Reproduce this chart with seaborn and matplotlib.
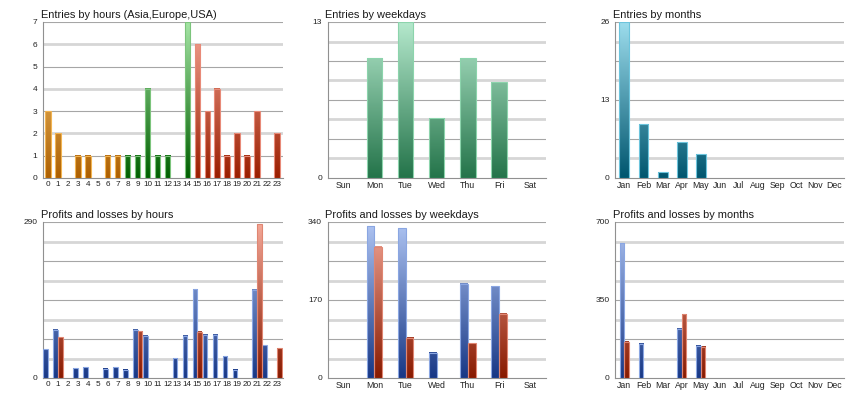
import numpy as np
import pandas as pd
import matplotlib
matplotlib.use("Agg")
import matplotlib.pyplot as plt
from matplotlib.colors import LinearSegmentedColormap
import seaborn as sns

sns.set_style("white")
plt.rcParams['font.family'] = ['Liberation Sans', 'DejaVu Sans']

# ── data ────────────────────────────────────────────────────────────────
hours = [str(h) for h in range(24)]
hour_region = ['Asia'] * 8 + ['Europe'] * 7 + ['USA'] * 9
entries_hours = [3, 2, 0, 1, 1, 0, 1, 1, 1, 1, 4, 1, 1, 0, 7, 6, 3, 4, 1, 2, 1, 3, 0, 2]

weekdays = ['Sun', 'Mon', 'Tue', 'Wed', 'Thu', 'Fri', 'Sat']
entries_weekdays = [0, 10, 13, 5, 10, 8, 0]

months = ['Jan', 'Feb', 'Mar', 'Apr', 'May', 'Jun', 'Jul', 'Aug', 'Sep', 'Oct', 'Nov', 'Dec']
entries_months = [26, 9, 1, 6, 4, 0, 0, 0, 0, 0, 0, 0]

profit_hours = [53, 90, 0, 18, 20, 0, 17, 20, 15, 90, 79, 0, 0, 37, 79, 165, 80, 80, 40, 15, 0, 164, 61, 0]
loss_hours = [0, 76, 0, 0, 0, 0, 0, 0, 0, 87, 0, 0, 0, 0, 0, 86, 0, 0, 0, 0, 0, 286, 0, 55]

profit_weekdays = [0, 331, 326, 55, 205, 200, 0]
loss_weekdays = [0, 286, 88, 0, 76, 140, 0]

profit_months = [604, 154, 0, 220, 145, 0, 0, 0, 0, 0, 0, 0]
loss_months = [163, 0, 0, 287, 141, 0, 0, 0, 0, 0, 0, 0]

# gradient colours (bottom of axis -> top of axis) and bar outline colour
grads = {
    'Asia':    ('#ad5f00', '#ffd98a', '#f2b451'),
    'Europe':  ('#005f00', '#a4e4a4', '#7cc47c'),
    'USA':     ('#9a1e00', '#f6a696', '#e88a78'),
    'week':    ('#24744a', '#b4e8cc', '#8cd4ac'),
    'month':   ('#00566f', '#9cdcec', '#6cc4dc'),
    'Profit':  ('#183886', '#aec4f2', '#8aa6e2'),
    'Loss':    ('#881a00', '#f4a898', '#e08672'),
}


def paint(ax, container, key, ymax):
    lo, hi, edge = grads[key]
    cmap = LinearSegmentedColormap.from_list(key, [lo, hi])
    for p in container.patches:
        h = p.get_height()
        if h <= 0:
            p.set_visible(False)
            continue
        x, w = p.get_x(), p.get_width()
        g = np.linspace(0, h / ymax, 64).reshape(-1, 1)
        ax.imshow(g, extent=[x, x + w, 0, h], origin='lower', aspect='auto',
                  cmap=cmap, vmin=0, vmax=1, zorder=3, interpolation='bilinear')
        p.set_facecolor('none')
        p.set_edgecolor(edge)
        p.set_linewidth(0.8)
        p.set_zorder(4)


def style(ax, title, ncat, ymax, step, labels, xlim, xfs=6.3):
    ax.set_xlim(*xlim)
    ax.set_ylim(0, ymax)
    n = int(round(ymax / step))
    for i in range(1, n + 1):
        y = i * step
        if (n - i) % 2 == 0:
            ax.axhline(y, color='#a6a6a6', lw=0.8, zorder=1)
        else:
            ax.axhline(y, color='#d6d6d6', lw=2.0, zorder=1)
    ax.set_yticks(labels)
    ax.set_yticklabels([str(int(v)) for v in labels])
    ax.set_yticks([i * step for i in range(n + 1)], minor=True)
    ax.set_xticks(range(ncat))
    ax.set_xticks([i + 0.5 for i in range(-1, ncat)], minor=True)
    ax.tick_params(axis='x', which='major', length=0, labelsize=xfs, pad=2.5, colors='#222222')
    ax.tick_params(axis='x', which='minor', length=3, color='#909090', width=0.8)
    ax.tick_params(axis='y', which='major', length=0, labelsize=6, pad=4, colors='#222222')
    ax.tick_params(axis='y', which='minor', length=3, color='#909090', width=0.8)
    for s in ['top', 'right']:
        ax.spines[s].set_visible(False)
    for s in ['left', 'bottom']:
        ax.spines[s].set_color('#909090')
        ax.spines[s].set_linewidth(0.8)
    ax.set_xlabel('')
    ax.set_ylabel('')
    ax.set_title(title, loc='left', fontsize=7.9, pad=3, x=-0.01, color='#1a1a1a')


fig = plt.figure(figsize=(8.6, 4.0), dpi=100)
top_b, bot_b, h = 0.555, 0.055, 0.39
pos = [(0.050, 0.279), (0.381, 0.2535), (0.715, 0.266)]
ax1 = fig.add_axes([pos[0][0], top_b, pos[0][1], h])
ax2 = fig.add_axes([pos[1][0], top_b, pos[1][1], h])
ax3 = fig.add_axes([pos[2][0], top_b, pos[2][1], h])
ax4 = fig.add_axes([pos[0][0], bot_b, pos[0][1], h])
ax5 = fig.add_axes([pos[1][0], bot_b, pos[1][1], h])
ax6 = fig.add_axes([pos[2][0], bot_b, pos[2][1], h])

# ── entries by hours ────────────────────────────────────────────────────
df_h = pd.DataFrame({'hour': hours, 'region': hour_region, 'n': entries_hours})
sns.barplot(data=df_h, x='hour', y='n', hue='region', order=hours,
            hue_order=['Asia', 'Europe', 'USA'], dodge=False, width=0.55,
            legend=False, ax=ax1)
for c, key in zip(ax1.containers, ['Asia', 'Europe', 'USA']):
    paint(ax1, c, key, 7)
style(ax1, 'Entries by hours (Asia,Europe,USA)', 24, 7, 1, list(range(8)), (-0.42, 23.6), xfs=5.9)

# ── entries by weekdays ─────────────────────────────────────────────────
df_w = pd.DataFrame({'day': weekdays, 'n': entries_weekdays})
sns.barplot(data=df_w, x='day', y='n', order=weekdays, width=0.5, color='#3a9a6a', ax=ax2)
paint(ax2, ax2.containers[0], 'week', 13)
style(ax2, 'Entries by weekdays', 7, 13, 13 / 8, [0, 13], (-0.5, 6.5))

# ── entries by months ───────────────────────────────────────────────────
df_m = pd.DataFrame({'month': months, 'n': entries_months})
sns.barplot(data=df_m, x='month', y='n', order=months, width=0.52, color='#2a8aa8', ax=ax3)
paint(ax3, ax3.containers[0], 'month', 26)
style(ax3, 'Entries by months', 12, 26, 26 / 8, [0, 13, 26], (-0.5, 11.5))


# ── profits and losses ──────────────────────────────────────────────────
def pnl(ax, cats, prof, loss, ymax, width, title, xlim, labels, xfs=6.3):
    df = pd.DataFrame({
        'cat': cats + cats,
        'kind': ['Profit'] * len(cats) + ['Loss'] * len(cats),
        'v': prof + loss,
    })
    sns.barplot(data=df, x='cat', y='v', hue='kind', order=cats,
                hue_order=['Profit', 'Loss'], width=width, legend=False, ax=ax)
    for c, key in zip(ax.containers, ['Profit', 'Loss']):
        paint(ax, c, key, ymax)
    style(ax, title, len(cats), ymax, ymax / 8, labels, xlim, xfs)


pnl(ax4, hours, profit_hours, loss_hours, 290, 0.92, 'Profits and losses by hours',
    (-0.42, 23.6), [0, 290], xfs=5.9)
pnl(ax5, weekdays, profit_weekdays, loss_weekdays, 340, 0.5, 'Profits and losses by weekdays',
    (-0.5, 6.5), [0, 170, 340])
pnl(ax6, months, profit_months, loss_months, 700, 0.5, 'Profits and losses by months',
    (-0.5, 11.5), [0, 350, 700])

fig.savefig('out.png', dpi=100)
